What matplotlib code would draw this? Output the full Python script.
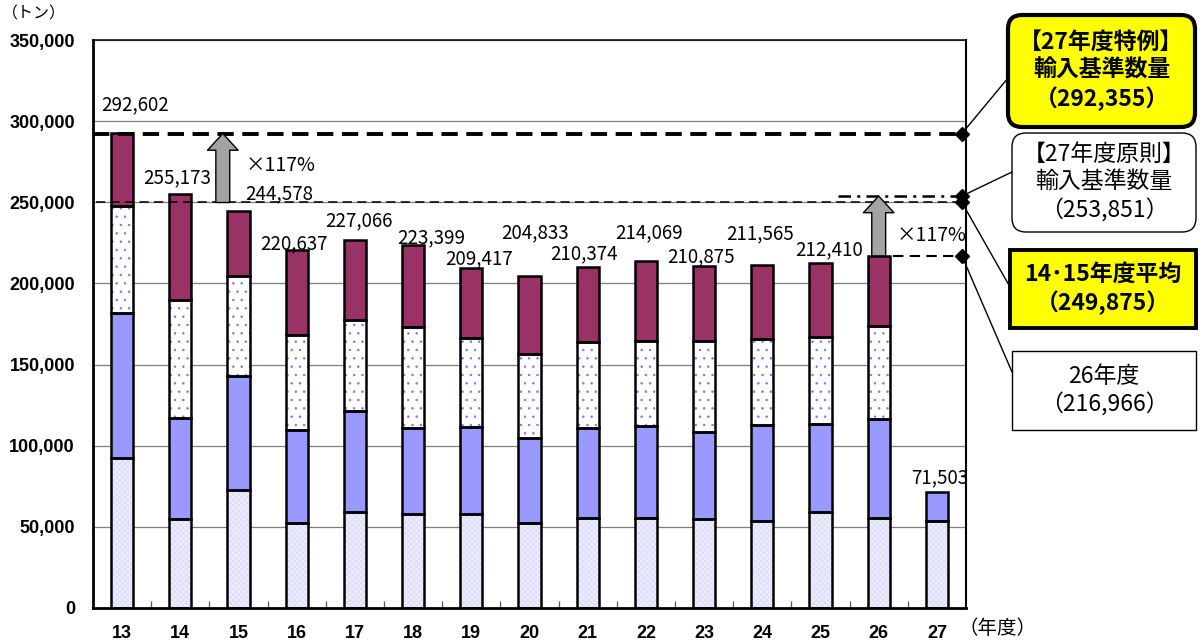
import matplotlib.pyplot as plt
from matplotlib.patches import ConnectionPatch, FancyBboxPatch
from matplotlib.ticker import FuncFormatter, MultipleLocator
import numpy as np

plt.rcParams['font.family'] = ['Noto Sans CJK JP', 'DejaVu Sans']
plt.rcParams['hatch.linewidth'] = 0.5

# 年度別の数量（トン）
years = ['13', '14', '15', '16', '17', '18', '19', '20', '21', '22', '23', '24', '25', '26', '27']
totals = [292602, 255173, 244578, 220637, 227066, 223399, 209417, 204833,
          210374, 214069, 210875, 211565, 212410, 216966, 71503]
part_base = [92400, 54800, 72700, 52200, 59300, 57900, 57900, 52600,
             55200, 55600, 54800, 53800, 59000, 55700, 53600]
part_blue = [89400, 62500, 70200, 57500, 62300, 53200, 53800, 51900,
             55900, 56700, 53800, 59000, 54200, 60800, 17903]
part_dots = [65900, 72500, 61700, 58500, 55900, 62200, 54500, 52000,
             53000, 52400, 55700, 52900, 53600, 57300, 0]

special_quota = 292355     # 27年度特例 輸入基準数量
principle_quota = 253851   # 27年度原則 輸入基準数量
avg_14_15 = 249875         # 14・15年度平均
fy26 = 216966              # 26年度

# 合計ラベルのずらし量（ピクセル）、None は表示なし
label_shift = [(13, 28), (-3, 16), (41, 17), (-3, 6), (4, 19), (18, 8), (8, 9),
               (6, 43), (-4, 13), (3, 28), (-3, 9), (-2, 31), (9, 13), None, (3, 14)]

fig = plt.figure(figsize=(12, 6.43), dpi=100)
ax = fig.add_axes([93 / 1200, 1 - 608 / 643, 873 / 1200, 568 / 643])

x = np.arange(len(years))
base = np.array(part_base)
blue = np.array(part_blue)
dots = np.array(part_dots)
top = np.array(totals) - base - blue - dots
w = 0.38

# 積み上げ棒
ax.bar(x, base, w, color='#ececfc', hatch='xxxxxx', edgecolor='#dadaf8', lw=0, zorder=2)
ax.bar(x, blue, w, bottom=base, color='#9999ff', lw=0, zorder=2)
ax.bar(x, dots, w, bottom=base + blue, color='white', hatch='..', edgecolor='#7373ff', lw=0, zorder=2)
ax.bar(x, top, w, bottom=base + blue + dots, color='#993366', lw=0, zorder=2)
bottom = np.zeros(len(x))
for seg in (base, blue, dots, top):
    mask = seg > 0
    ax.bar(x[mask], seg[mask], w, bottom=bottom[mask], fill=False,
           edgecolor='black', lw=1.8, zorder=3)
    bottom = bottom + seg

# 合計ラベル
for i, t in enumerate(totals):
    if label_shift[i] is None:
        continue
    ax.annotate(f'{t:,}', xy=(x[i], t), xytext=label_shift[i], textcoords='offset pixels',
                ha='center', va='center', fontsize=13.5, zorder=8)

# 軸
ax.set_xlim(-0.5, len(years) - 0.5)
ax.set_ylim(0, 350000)
ax.yaxis.set_major_locator(MultipleLocator(50000))
ax.yaxis.set_major_formatter(FuncFormatter(lambda v, p: f'{int(v):,}'))
ax.yaxis.grid(True, color='#7f7f7f', lw=0.9)
ax.set_axisbelow(True)
ax.set_xticks(x)
ax.set_xticklabels(years)
ax.set_xticks(np.arange(0.5, len(years) - 1, 1.0), minor=True)
ax.tick_params(axis='y', length=0, pad=13)
ax.tick_params(axis='x', which='major', length=0, pad=12)
ax.tick_params(axis='x', which='minor', direction='in', length=5, width=0.9, color='#555555')
for lab in ax.get_yticklabels() + ax.get_xticklabels():
    lab.set_fontfamily(['Liberation Sans'])
    lab.set_fontweight('bold')
    lab.set_fontsize(13)
for s, lw in (('left', 2.0), ('bottom', 2.0), ('top', 1.1), ('right', 1.5)):
    ax.spines[s].set_linewidth(lw)
    ax.spines[s].set_color('black')

fig.text(2 / 1200, 1 - 14 / 643, '（トン）', ha='left', va='center', fontsize=11.5)
fig.text(998 / 1200, 1 - 629 / 643, '（年度）', ha='center', va='center', fontsize=14)

# 基準線
x_end = 14.43
ax.plot([-0.5, x_end], [special_quota] * 2, color='black', lw=2.8, ls=(0, (4.2, 2.2)), zorder=5)
ax.plot([-0.45, x_end], [avg_14_15] * 2, color='black', lw=1.1, ls=(0, (6, 3.5)), zorder=5)
ax.plot([12.3, x_end], [principle_quota] * 2, color='black', lw=1.8, ls=(0, (5, 2.5, 1.2, 2.5)), zorder=5)
ax.plot([13.25, x_end], [fy26] * 2, color='black', lw=1.5, ls=(0, (5, 3)), zorder=5)
for v in (special_quota, principle_quota, avg_14_15, fy26):
    ax.plot(x_end, v, marker='D', ms=7, color='black', clip_on=False, zorder=7)

# ×117% の矢印
arrow_style = 'simple,head_length=0.6,head_width=1.1,tail_width=0.5'
for ax_x, y0, y1, dx, dy in ((1.73, avg_14_15, special_quota, 58, 3),
                             (13.0, fy26, principle_quota, 53, -10)):
    ax.annotate('', xy=(ax_x, y1), xytext=(ax_x, y0),
                arrowprops=dict(arrowstyle=arrow_style, fc='#a3a3a3', ec='black', lw=1.0,
                                mutation_scale=20, shrinkA=0, shrinkB=0), zorder=6)
    ax.annotate('×117%', xy=(ax_x, (y0 + y1) / 2), xytext=(dx, dy), textcoords='offset pixels',
                ha='center', va='center', fontsize=14, zorder=8)

# 右側の説明ボックス
tr = fig.dpi_scale_trans
H = 6.43


def px(xp, yp):
    return (xp / 100, H - yp / 100)


boxes = [
    # (左, 上, 右, 下, 角丸, 塗り, 線幅, 太字, 文字, 接続先y, 線の元の値)
    (1008, 15, 1195, 127, True, '#ffff00', 3.0, True,
     '【27年度特例】\n輸入基準数量\n（292,355）', 78, special_quota),
    (1012, 133, 1196, 232, True, 'white', 1.0, False,
     '【27年度原則】\n輸入基準数量\n（253,851）', 172, principle_quota),
    (1010, 250, 1196, 328, False, '#ffff00', 2.8, True,
     '14･15年度平均\n（249,875）', 287, avg_14_15),
    (1012, 351, 1196, 430, False, 'white', 1.0, False,
     '26年度\n（216,966）', 372, fy26),
]
for x0, y0, x1, y1, rounded, fc, lw, bold, txt, cy, val in boxes:
    (bx0, by1), (bx1, by0) = px(x0, y0), px(x1, y1)
    style = 'round,pad=0,rounding_size=0.14' if rounded else 'square,pad=0'
    patch = FancyBboxPatch((bx0, by0), bx1 - bx0, by1 - by0, boxstyle=style,
                           transform=tr, fc=fc, ec='black', lw=lw)
    fig.add_artist(patch)
    cx, cyy = px((x0 + x1) / 2, (y0 + y1) / 2)
    fig.text(cx, cyy, txt, transform=tr, ha='center', va='center', fontsize=16.5,
             fontweight='bold' if bold else 'normal', linespacing=1.25)
    con = ConnectionPatch(xyA=(x_end, val), coordsA=ax.transData,
                          xyB=px(x0, cy), coordsB=tr, color='black', lw=1.0)
    fig.add_artist(con)

fig.savefig('out.png', dpi=100)
